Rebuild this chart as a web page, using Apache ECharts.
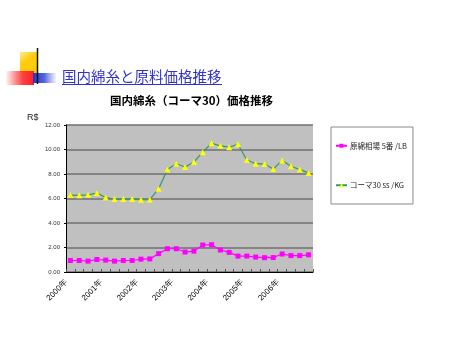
<!DOCTYPE html>
<html>
<head>
<meta charset="utf-8">
<script src="https://cdn.jsdelivr.net/npm/echarts@6/dist/echarts.min.js"></script>
<style>
  html, body { margin: 0; padding: 0; background: #ffffff; }
  #chart { width: 450px; height: 338px; }
</style>
</head>
<body>
<div id="chart"></div>
<script>
// Quarterly prices, 2000–2006
const years = ['2000', '2001', '2002', '2003', '2004', '2005', '2006'];
const quarters = ['1', '2', '3', '4'];

// Raw cotton market price (R$ / LB)
const rawCotton = [
  0.94, 0.94, 0.89, 1.02, 0.97, 0.89, 0.94, 0.94, 1.05, 1.07,
  1.50, 1.90, 1.90, 1.63, 1.70, 2.20, 2.23, 1.80, 1.60, 1.30,
  1.30, 1.22, 1.17, 1.18, 1.47, 1.34, 1.34, 1.40
];

// Combed yarn Ne30 price (R$ / KG)
const combed30 = [
  6.28, 6.26, 6.30, 6.44, 6.08, 5.95, 5.95, 5.95, 5.90, 5.90,
  6.80, 8.36, 8.84, 8.57, 8.98, 9.78, 10.51, 10.30, 10.19, 10.43,
  9.14, 8.84, 8.81, 8.41, 9.11, 8.63, 8.36, 8.09
];

const seriesNames = ['原綿相場 5番 /LB', 'コーマ30 ss /KG'];
const yTicks = { min: 0, max: 12, step: 2 };

const categories = [];
years.forEach(y => quarters.forEach(q => categories.push(y + '年|Q' + q)));

const chart = echarts.init(document.getElementById('chart'), null, { renderer: 'canvas' });

chart.setOption({
  backgroundColor: '#ffffff',
  animation: false,
  title: [
    {
      text: '国内綿糸と原料価格推移',
      left: 62, top: 69, padding: 0,
      textStyle: { color: '#3333CC', fontSize: 14.5, fontWeight: 'normal', fontFamily: 'Noto Sans CJK JP' }
    },
    {
      text: '国内綿糸（コーマ30）価格推移',
      left: 110, top: 95, padding: 0,
      textStyle: { color: '#000000', fontSize: 11.5, fontWeight: 'bold', fontFamily: 'Noto Sans CJK JP' }
    }
  ],
  graphic: [
    // slide ornament: overlapping blocks and a thin rule
    { type: 'rect', shape: { x: 20, y: 52, width: 17, height: 21 },
      style: { fill: new echarts.graphic.LinearGradient(0, 0, 1, 1, [
        { offset: 0, color: '#FFEA90' }, { offset: 0.4, color: '#FFCC11' }, { offset: 1, color: '#FFCC00' }]) } },
    { type: 'rect', shape: { x: 6, y: 71, width: 28, height: 14 },
      style: { fill: new echarts.graphic.LinearGradient(0, 0, 1, 0, [
        { offset: 0, color: 'rgba(255,60,60,0.05)' }, { offset: 0.6, color: '#FF4040' }, { offset: 1, color: '#FF2020' }]) } },
    { type: 'rect', shape: { x: 33, y: 73, width: 23, height: 10 },
      style: { fill: new echarts.graphic.LinearGradient(0, 0, 1, 0, [
        { offset: 0, color: '#2233CC' }, { offset: 0.5, color: '#5566DD' }, { offset: 1, color: 'rgba(120,130,230,0.1)' }]) } },
    { type: 'line', shape: { x1: 37.5, y1: 48, x2: 37.5, y2: 84 },
      style: { stroke: '#111111', lineWidth: 1.5 } },
    // underline of the slide heading
    { type: 'line', shape: { x1: 62, y1: 84.5, x2: 222, y2: 84.5 },
      style: { stroke: '#3333CC', lineWidth: 1 } },
    // currency unit above the value axis
    { type: 'text', left: 27, top: 113,
      style: { text: 'R$', fontSize: 9, fill: '#222222', fontFamily: 'Liberation Sans' } }
  ],
  legend: {
    orient: 'vertical',
    left: 331, top: 127,
    width: 87,
    padding: [15, 6, 15, 4],
    itemGap: 32,
    itemWidth: 11,
    itemHeight: 5,
    backgroundColor: '#ffffff',
    borderColor: '#888888',
    borderWidth: 1,
    textStyle: { fontSize: 7.5, color: '#222222', fontFamily: 'Noto Sans CJK JP', padding: [0, 0, 0, -2] },
    data: seriesNames
  },
  grid: {
    left: 66, top: 125, width: 247, height: 147,
    show: true, backgroundColor: '#C0C0C0', borderWidth: 0
  },
  xAxis: {
    type: 'category',
    data: categories,
    boundaryGap: true,
    axisLine: { lineStyle: { color: '#000000', width: 1 } },
    axisTick: { show: true, interval: 0, length: 3, inside: true, lineStyle: { color: '#555555' } },
    axisLabel: {
      interval: 3, rotate: 45, fontSize: 8, margin: 5, color: '#000000',
      padding: [0, 6, 0, 0],
      fontFamily: 'Liberation Sans',
      formatter: v => v.split('|')[0]
    },
    splitLine: { show: false }
  },
  yAxis: {
    type: 'value',
    min: yTicks.min, max: yTicks.max, interval: yTicks.step,
    axisLine: { show: true, lineStyle: { color: '#000000', width: 1 } },
    axisTick: { show: true, length: 2, lineStyle: { color: '#000000' } },
    axisLabel: {
      fontSize: 6, margin: 6, color: '#333333', fontFamily: 'Liberation Sans',
      formatter: v => v.toFixed(2)
    },
    splitLine: { show: true, lineStyle: { color: '#707070', width: 1.5 } }
  },
  series: [
    {
      name: seriesNames[0],
      type: 'line',
      data: rawCotton,
      symbol: 'rect',
      symbolSize: 5,
      showAllSymbol: true,
      lineStyle: { color: '#FF00FF', width: 1.2 },
      itemStyle: { color: '#FF00FF', borderWidth: 0 }
    },
    {
      name: seriesNames[1],
      type: 'line',
      data: combed30,
      symbol: 'triangle',
      symbolSize: 6,
      showAllSymbol: true,
      lineStyle: { color: '#339966', width: 1.2 },
      itemStyle: { color: '#FFFF00', borderWidth: 0 }
    }
  ]
});
</script>
</body>
</html>
